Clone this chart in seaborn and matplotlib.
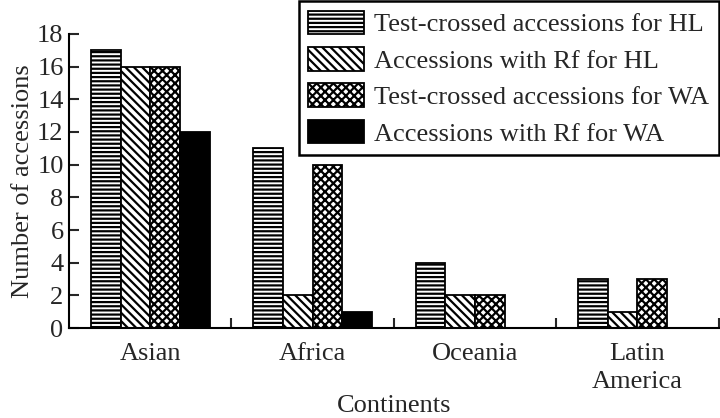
import matplotlib
matplotlib.use("Agg")
import matplotlib.pyplot as plt
import seaborn as sns
import pandas as pd

# data
continents = ["Asian", "Africa", "Oceania", "Latin\nAmerica"]
series = ["Test-crossed accessions for HL", "Accessions with Rf for HL",
          "Test-crossed accessions for WA", "Accessions with Rf for WA"]
hl_tested = [17, 11, 4, 3]
hl_rf = [16, 2, 2, 1]
wa_tested = [16, 10, 2, 3]
wa_rf = [12, 1, 0, 0]

df = pd.DataFrame({
    "continent": continents * 4,
    "series": [s for s in series for _ in continents],
    "count": hl_tested + hl_rf + wa_tested + wa_rf,
})

sns.set_style("white")
plt.rcParams["font.family"] = ["Liberation Serif", "DejaVu Serif"]
plt.rcParams["hatch.linewidth"] = 1.6
plt.rcParams["hatch.color"] = "black"

fig = plt.figure(figsize=(7.2, 4.18), dpi=100)
ax = fig.add_axes([0.096, 0.215, 0.902, 0.704])

sns.barplot(data=df, x="continent", y="count", hue="series", hue_order=series,
            palette=["white", "white", "white", "black"], edgecolor="black",
            linewidth=1.3, width=0.73, gap=0, saturation=1, legend=False, ax=ax)

hatches = ["----", "\\\\\\\\", "xxxx", ""]
for cont, h in zip(ax.containers, hatches):
    for bar in cont:
        bar.set_hatch(h)

ax.set_ylim(0, 18)
ax.set_xlim(-0.5, 3.5)
ax.set_yticks(range(0, 19, 2))
ax.set_xticks([0.5, 1.5, 2.5, 3.5], minor=True)
ax.tick_params(axis="y", direction="in", length=7, width=1.5, labelsize=19, pad=4, left=True)
ax.tick_params(axis="x", which="major", length=0, labelsize=19, pad=11)
ax.tick_params(axis="x", which="minor", direction="in", length=7, width=1.5, bottom=True)
for lab in ax.get_xticklabels():
    lab.set_linespacing(1.35)
ax.set_xlabel("Continents", fontsize=19, labelpad=1)
ax.set_ylabel("Number of accessions", fontsize=19, labelpad=2)
sns.despine(ax=ax)
for s in ["left", "bottom"]:
    ax.spines[s].set_linewidth(1.5)
    ax.spines[s].set_color("black")

leg = ax.legend(ax.containers, series, loc="upper right", bbox_to_anchor=(1.0, 1.0),
                bbox_transform=fig.transFigure, fontsize=19, frameon=True,
                fancybox=False, edgecolor="black", handlelength=2.1, handleheight=1.0,
                labelspacing=0.4, borderpad=0.35, handletextpad=0.4, borderaxespad=0.05)
leg.get_frame().set_linewidth(1.8)
leg.get_frame().set_alpha(1)

fig.savefig("out.png", dpi=100)
